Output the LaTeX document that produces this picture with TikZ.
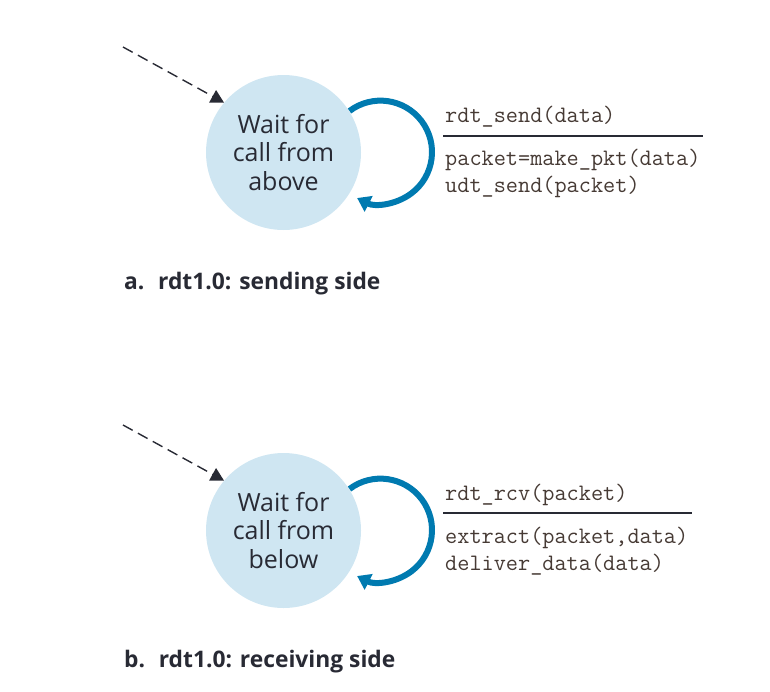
\documentclass[tikz,border=0pt]{standalone}
\usepackage{fontspec}
\setmainfont{Open Sans}
\usetikzlibrary{arrows.meta}
\definecolor{statefill}{RGB}{207,230,242}
\definecolor{loopblue}{RGB}{0,122,176}
\definecolor{inkdark}{RGB}{40,42,52}
\definecolor{codeink}{RGB}{70,58,52}
\tikzset{
  state/.style={circle, fill=statefill, minimum size=155pt, inner sep=0pt,
    align=center, font=\fontsize{25}{28.5}\selectfont, text=inkdark},
  selfloop/.style={draw=loopblue, line width=6pt,
    -{Triangle[length=13pt,width=17pt]}},
  initarrow/.style={draw=inkdark, line width=1.4pt, dash pattern=on 11pt off 6pt,
    -{Triangle[length=13pt,width=14pt]}},
  code/.style={anchor=base west, inner sep=0pt, text=codeink,
    font=\ttfamily\fontsize{23.6}{27}\selectfont},
  rule/.style={draw=inkdark, line width=1.5pt},
  caption/.style={anchor=base west, inner sep=0pt, text=inkdark,
    font=\bfseries\fontsize{22.8}{26}\selectfont}
}
\begin{document}
\begin{tikzpicture}[x=1pt,y=1pt]
\useasboundingbox (0,0) rectangle (770,-691);

% sending side
\node[state] (sa) at (283.5,-152.5) {Wait for\\call from\\above};
\coordinate (sastart) at (123,-47);
\draw[initarrow] (sastart) -- (sa.140);
\coordinate (saloop) at (349.5,-111);
\draw[selfloop] (saloop) arc[start angle=127, end angle=-117, radius=51.5];
\node[code] (sev) at (445,-122) {rdt\_send(data)};
\coordinate (sal) at (443,-136);
\coordinate (sar) at (703,-136);
\draw[rule] (sal) -- (sar);
\node[code] (sac1) at (445,-165) {packet=make\_pkt(data)};
\node[code] (sac2) at (445,-192) {udt\_send(packet)};
\node[caption] (capa) at (124,-289) {a.\hspace{0.6em}rdt1.0: sending side};

% receiving side
\node[state] (sb) at (283.5,-530.5) {Wait for\\call from\\below};
\coordinate (sbstart) at (123,-425);
\draw[initarrow] (sbstart) -- (sb.140);
\coordinate (sbloop) at (349.5,-489);
\draw[selfloop] (sbloop) arc[start angle=127, end angle=-117, radius=51.5];
\node[code] (rev) at (445,-500) {rdt\_rcv(packet)};
\coordinate (sbl) at (443,-513);
\coordinate (sbr) at (692,-513);
\draw[rule] (sbl) -- (sbr);
\node[code] (sbc1) at (445,-543) {extract(packet,data)};
\node[code] (sbc2) at (445,-570) {deliver\_data(data)};
\node[caption] (capb) at (124,-667) {b.\hspace{0.6em}rdt1.0: receiving side};
\end{tikzpicture}
\end{document}
